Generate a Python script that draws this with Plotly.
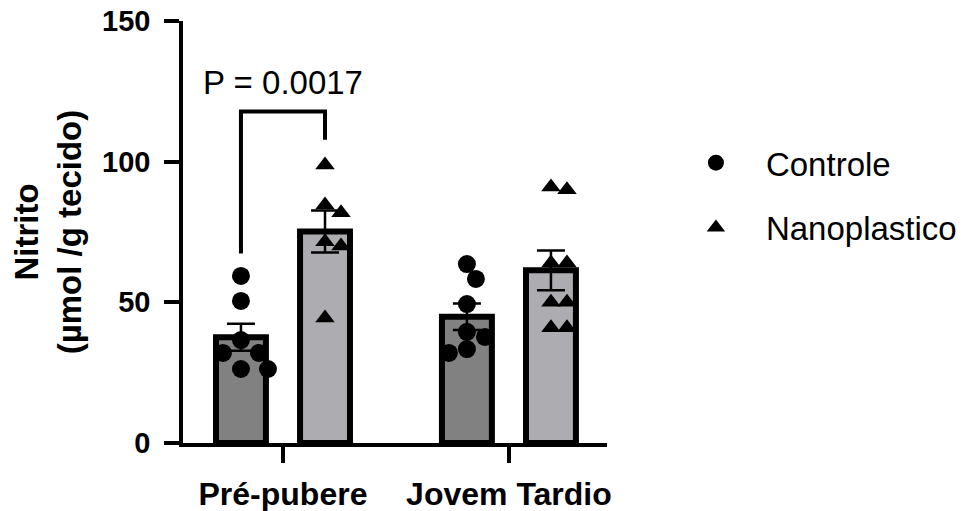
import plotly.graph_objects as go
import numpy as np

# ---------------- data ----------------
groups = ["Pré-pubere", "Jovem Tardio"]
series_names = ["Controle", "Nanoplastico"]
controle_pre = [59.4, 50.5, 36.6, 32.0, 32.0, 26.3, 26.3]
nano_pre = [98.8, 84.6, 81.8, 71.5, 70.0, 44.4]
controle_jovem = [63.6, 58.3, 49.4, 39.5, 37.7, 32.0, 33.4]
nano_jovem = [91.0, 90.0, 64.0, 64.0, 50.0, 50.0, 41.0, 41.0]
y_ticks = [0, 50, 100, 150]
p_label = "P = 0.0017"

series_data = {
    "Controle": [controle_pre, controle_jovem],
    "Nanoplastico": [nano_pre, nano_jovem],
}

# ---------------- layout constants ----------------
# the page body adds an 8px margin, so the figure is 8px smaller than the window
W, H = 960, 503
ML, MR, MT, MB = 175, 361, 13, 68
XR = [-0.4425, 1.434]
YR = [0, 150]
XPX = (W - ML - MR) / (XR[1] - XR[0])
YPX = (H - MT - MB) / (YR[1] - YR[0])
OFFSET = 0.186
BAR_W = 0.221
FONT = "Liberation Sans"

styles = {
    "Controle": dict(fill="#818181", symbol="circle", size=18, diam=18, off=-OFFSET),
    "Nanoplastico": dict(fill="#ADADB1", symbol="triangle-up", size=17, diam=16, off=OFFSET),
}


def swarm(vals, diam):
    """simple beeswarm: returns x offsets in data units"""
    order = np.argsort(-np.asarray(vals), kind="stable")
    placed = []
    offs = [0.0] * len(vals)
    step = diam / 2.0
    for idx in order:
        y = vals[idx] * YPX
        k = 0
        while True:
            cands = [0.0] if k == 0 else [k * step, -k * step]
            ok = None
            for c in cands:
                if all((c - px) ** 2 + (y - py) ** 2 >= (diam * 0.95) ** 2 for px, py in placed):
                    ok = c
                    break
            if ok is not None:
                placed.append((ok, y))
                offs[idx] = ok / XPX
                break
            k += 1
    return offs


fig = go.Figure()

# bars with SEM error bars
for name in series_names:
    st = styles[name]
    for gi, vals in enumerate(series_data[name]):
        v = np.asarray(vals)
        mean = v.mean()
        sem = v.std(ddof=1) / np.sqrt(len(v))
        fig.add_trace(go.Bar(
            x=[gi + st["off"]], y=[mean], width=BAR_W,
            marker=dict(color=st["fill"], line=dict(color="black", width=6)),
            error_y=dict(type="data", array=[sem], color="black", thickness=2.5, width=14),
            showlegend=False, hoverinfo="skip",
        ))

# individual points
for name in series_names:
    st = styles[name]
    xs, ys = [], []
    for gi, vals in enumerate(series_data[name]):
        offs = swarm(vals, st["diam"])
        xs += [gi + st["off"] + o for o in offs]
        ys += list(vals)
    fig.add_trace(go.Scatter(
        x=xs, y=ys, mode="markers", name=name, legendgroup=name,
        marker=dict(symbol=st["symbol"], size=st["size"], color="black", line=dict(width=0)),
    ))

# significance bracket (Pré-pubere)
c_max = max(controle_pre)
n_max = max(nano_pre)
top = max(c_max, n_max) + 19
x0 = 0 - OFFSET
x1 = 0 + OFFSET
fig.add_shape(type="path", xref="x", yref="y",
              path=f"M {x0},{c_max + 8} L {x0},{top} L {x1},{top} L {x1},{n_max + 9}",
              line=dict(color="black", width=4))
fig.add_annotation(x=0, y=top + 10.5, xref="x", yref="y", text=p_label, showarrow=False,
                   font=dict(family=FONT, size=33, color="black"), yanchor="middle")

fig.update_layout(
    width=W, height=H,
    margin=dict(l=ML, r=MR, t=MT, b=MB, autoexpand=False),
    paper_bgcolor="white", plot_bgcolor="white",
    barmode="overlay",
    font=dict(family=FONT, color="black"),
    showlegend=True,
    legend=dict(x=1.139, y=0.7305, xanchor="left", yanchor="top",
                font=dict(family=FONT, size=33, color="black"),
                itemwidth=90,
                tracegroupgap=19, bgcolor="rgba(0,0,0,0)"),
    xaxis=dict(range=XR, tickvals=[0, 1], ticktext=groups, showline=True, linecolor="black",
               linewidth=3.5, ticks="outside", ticklen=16, tickwidth=3.5, tickcolor="black",
               showgrid=False, zeroline=False, ticklabelstandoff=4, ticklabeloverflow="allow",
               tickfont=dict(family=FONT, size=32, color="black", weight="bold")),
    yaxis=dict(range=YR, tickvals=y_ticks, showline=True, linecolor="black",
               linewidth=3.5, ticks="outside", ticklen=15, tickwidth=3.5, tickcolor="black",
               showgrid=False, zeroline=False, ticklabelstandoff=8, ticklabeloverflow="allow",
               tickfont=dict(family=FONT, size=29, color="black", weight="bold"),
               title=dict(text="Nitrito<br>(µmol /g tecido)", standoff=20,
                          font=dict(family=FONT, size=33, color="black", weight="bold"))),
)

fig.write_html("out.html")
